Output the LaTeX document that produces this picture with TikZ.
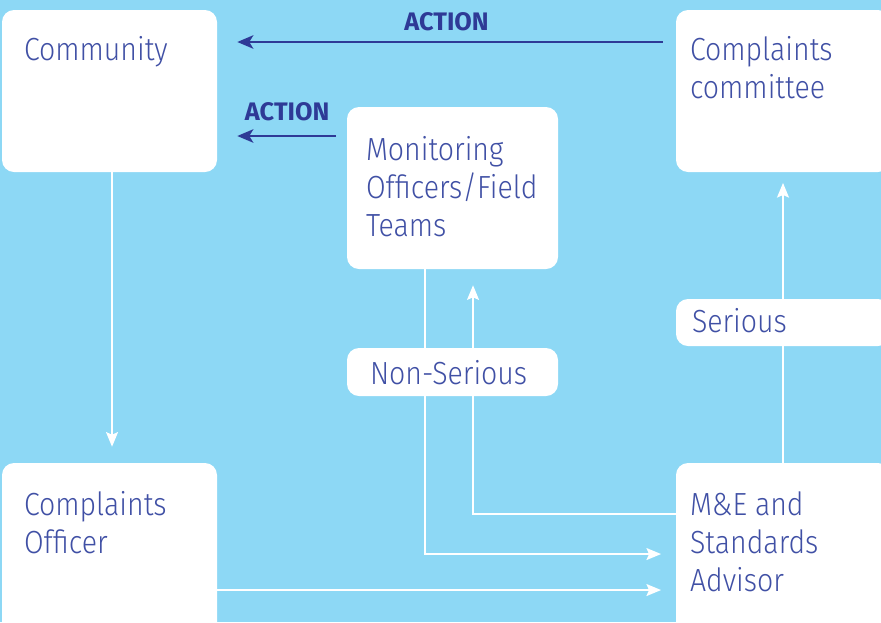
\documentclass[tikz,border=0pt]{standalone}
\usepackage{fontspec}
\setmainfont{Fira Sans}[UprightFont=* Light, UprightFeatures={FakeStretch=0.89}, BoldFont=* Bold]
\usetikzlibrary{arrows.meta, positioning, fit}
\definecolor{bgblue}{RGB}{141,216,245}
\definecolor{txtblue}{RGB}{64,80,165}
\definecolor{actblue}{RGB}{46,58,150}

\begin{document}
\begin{tikzpicture}[x=0.75pt, y=-0.75pt,
    box/.style={fill=white, rounded corners=9pt, inner sep=0pt},
    lbl/.style={anchor=north west, inner sep=0pt, align=left, text=txtblue,
      font=\fontsize{24}{28.5}\selectfont},
    warrow/.style={draw=white, line width=1.2pt, -{Stealth[length=11pt, width=9pt, inset=2pt]}},
    aarrow/.style={draw=actblue, line width=2pt, -{Stealth[length=12pt, width=10pt, inset=3pt]}},
    alabel/.style={inner sep=0pt, text=actblue, font=\fontsize{19}{22}\selectfont\bfseries}]
  \useasboundingbox (0,0) rectangle (881,622);
  \clip (0,0) rectangle (881,622);
  \fill[bgblue] (0,0) rectangle (881,622);

  % main boxes
  \node[box, fit={(2,10) (217,172)}] (community) {};
  \node[box, fit={(676,10) (890,172)}] (committee) {};
  \node[box, fit={(347,107) (558,269)}] (monitor) {};
  \node[box, fit={(2,463) (217,640)}] (officer) {};
  \node[box, fit={(676,463) (890,640)}] (mande) {};

  \node[lbl] (communitytxt) at ([shift={(22,23.4)}]community.north west) {\strut Community};
  \node[lbl] (committeetxt) at ([shift={(14,23.4)}]committee.north west) {\strut Complaints\\committee};
  \node[lbl] (monitortxt) at ([shift={(19,26.4)}]monitor.north west) {\strut Monitoring\\Officers/Field\\Teams};
  \node[lbl] (officertxt) at ([shift={(22,25.4)}]officer.north west) {\strut Complaints\\Officer};
  \node[lbl] (mandetxt) at ([shift={(14,25.4)}]mande.north west) {\strut M\&E and\\Standards\\Advisor};

  % white connectors
  \draw[warrow, shorten >=12pt] ([xshift=1.9pt]community.south) -- ([xshift=1.9pt]officer.north);
  \draw[warrow, shorten >=11pt] ([yshift=-28.9pt]officer.east) -- ([yshift=-28.9pt]mande.west);
  \draw[warrow, shorten >=11pt] ([xshift=-20.6pt]monitor.south) |- ([yshift=-1.9pt]mande.west);
  \draw[warrow, shorten >=12pt] ([yshift=28.1pt]mande.west) -| ([xshift=15.4pt]monitor.south);
  \draw[warrow, shorten >=8pt] (mande.north) -- (committee.south);

  % action arrows
  \draw[aarrow, shorten <=9.75pt, shorten >=15pt] ([yshift=36.75pt]committee.west) -- ([yshift=36.75pt]community.east)
    node[alabel, midway, above=7.5pt] (action1) {ACTION};
  \coordinate (act2) at ([yshift=39pt]monitor.west);
  \draw[aarrow, shorten <=8pt, shorten >=15pt] (act2) -- (act2 -| community.east)
    node[alabel, pos=0.46, above=10.5pt] (action2) {ACTION};

  % decision boxes
  \node[box, fit={(347,348) (558,396)}] (nonserious) {};
  \node[box, fit={(676,299) (890,346)}] (serious) {};
  \node[lbl] (nonserioustxt) at ([shift={(23,9.4)}]nonserious.north west) {\strut Non-Serious};
  \node[lbl] (serioustxt) at ([shift={(16,6.4)}]serious.north west) {\strut Serious};
\end{tikzpicture}
\end{document}
